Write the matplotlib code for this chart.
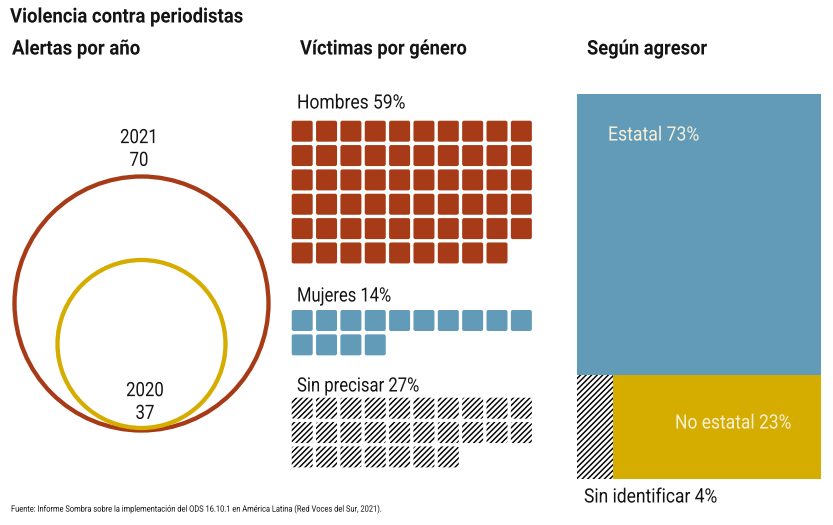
import matplotlib
matplotlib.use('Agg')
import matplotlib.pyplot as plt
from matplotlib.patches import Circle, FancyBboxPatch, Rectangle
from matplotlib.patheffects import AbstractPathEffect
from matplotlib.transforms import Affine2D

# Data
years = ['2021', '2020']
alerts = [70, 37]

gender_labels = ['Hombres', 'Mujeres', 'Sin precisar']
gender_values = [59, 14, 27]

agresor_labels = ['Estatal', 'No estatal', 'Sin identificar']
agresor_values = [73, 23, 4]

source = 'Fuente: Informe Sombra sobre la implementación del ODS 16.10.1 en América Latina (Red Voces del Sur, 2021).'

RED = '#A73B17'
GOLD = '#D5AD00'
BLUE = '#629BB8'
CREAM = '#F6EFD8'
INK = '#141414'

plt.rcParams['font.family'] = ['Roboto', 'DejaVu Sans']
plt.rcParams['hatch.linewidth'] = 1.05


# no condensed font installed, so the glyphs get narrowed when they are drawn
class Squeeze(AbstractPathEffect):
    def __init__(self, sx, anchor):
        super().__init__()
        self.sx = sx
        self.anchor = anchor

    def draw_path(self, renderer, gc, tpath, affine, rgbFace=None):
        narrow = Affine2D().translate(-self.anchor, 0).scale(self.sx, 1).translate(self.anchor, 0)
        renderer.draw_path(gc, tpath, affine + narrow, rgbFace)


fig = plt.figure(figsize=(8.33, 5.25), dpi=100, facecolor='white')
# axes in pixel units of the picture, y going down
ax = fig.add_axes([0, 0, 1, 1])
ax.set_xlim(0, 833)
ax.set_ylim(525, 0)
ax.axis('off')


def label(x, y, s, size=14.2, sx=0.87, color=INK, **kw):
    t = ax.text(x, y, s, fontsize=size, color=color, va='center', **kw)
    t.set_path_effects([Squeeze(sx, x)])
    return t


# headers
label(10, 17, 'Violencia contra periodistas', size=14.5, sx=0.92, fontweight='bold')
label(12, 49, 'Alertas por año', size=14.5, sx=0.925, fontweight='bold')
label(300, 49, 'Víctimas por género', size=14.5, sx=0.91, fontweight='bold')
label(587, 49, 'Según agresor', size=14.5, sx=0.91, fontweight='bold')

# circles
circle_x = 141.5
circle_bottoms = [430.5, 428]
radii = [127, 84]
circle_colors = [RED, GOLD]
for r, bottom, col in zip(radii, circle_bottoms, circle_colors):
    ax.add_patch(Circle((circle_x, bottom - r), r, facecolor='none', edgecolor=col, linewidth=3.1))

label(139, 149, f'{years[0]}\n{alerts[0]}', sx=0.85, ha='center', linespacing=1.25)
label(145, 402, f'{years[1]}\n{alerts[1]}', sx=0.85, ha='center', linespacing=1.25)

# waffles, one cell per percentage point
cell = 21
pitch = 24.35
waffle_x = 291.7
waffle_tops = [120.7, 310, 397.7]
label_y = [103, 296, 386]
label_sx = [0.885, 0.84, 0.845]
waffle_styles = [
    dict(facecolor=RED, edgecolor='none'),
    dict(facecolor=BLUE, edgecolor='none'),
    dict(facecolor='white', edgecolor='black', hatch='/' * 6, linewidth=0),
]

for name, value, top, ly, lsx, style in zip(gender_labels, gender_values, waffle_tops, label_y, label_sx, waffle_styles):
    label(297, ly, f'{name} {value}%', sx=lsx)
    for i in range(value):
        row, col = divmod(i, 10)
        x = waffle_x + col * pitch
        y = top + row * pitch
        ax.add_patch(FancyBboxPatch((x + 2, y + 2), cell - 4, cell - 4,
                                    boxstyle='round,pad=2,rounding_size=2', **style))

# block split by agresor
bx0, bx1 = 577, 821
by0, by1 = 94, 479
total = sum(agresor_values)
split_y = by0 + (by1 - by0) * agresor_values[0] / total
split_x = bx0 + (bx1 - bx0) * agresor_values[2] / (agresor_values[1] + agresor_values[2])

ax.add_patch(Rectangle((bx0, by0), bx1 - bx0, split_y - by0, facecolor=BLUE, edgecolor='none'))
ax.add_patch(Rectangle((split_x, split_y), bx1 - split_x, by1 - split_y, facecolor=GOLD, edgecolor='none'))
ax.add_patch(Rectangle((bx0, split_y), split_x - bx0, by1 - split_y, facecolor='white',
                       edgecolor='black', hatch='/' * 6, linewidth=0))

label(608, 135, f'{agresor_labels[0]} {agresor_values[0]}%', sx=0.895, color=CREAM)
label(675, 423, f'{agresor_labels[1]} {agresor_values[1]}%', sx=0.885, color=CREAM)
label(584, 497, f'{agresor_labels[2]} {agresor_values[2]}%', sx=0.885)

label(11, 509, source, size=6.3, sx=0.855)

fig.savefig('out.png', dpi=100, facecolor='white')
